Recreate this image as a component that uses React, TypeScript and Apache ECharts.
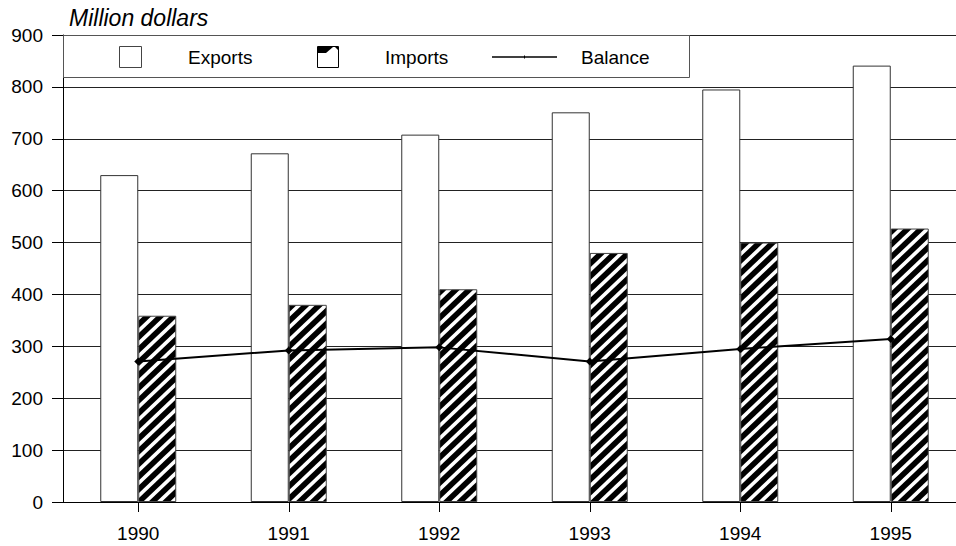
import React, { useEffect, useRef } from "react";
import * as echarts from "echarts";

const years = ["1990", "1991", "1992", "1993", "1994", "1995"];
const exportsValues = [630, 672, 708, 751, 795, 841];
const importsValues = [359, 380, 410, 480, 500, 527];
const balanceValues = [271, 292, 298, 271, 295, 314];
const yTicks = { min: 0, max: 900, interval: 100 };

const FONT = "'Liberation Sans', Arial, sans-serif";
const LABEL_SIZE = 19;

// Black fill with white diagonal "/" stripes, as a global image pattern
function makeHatch(): string {
  const w = 960;
  const h = 560;
  const c = document.createElement("canvas");
  c.width = w;
  c.height = h;
  const ctx = c.getContext("2d")!;
  ctx.fillStyle = "#000";
  ctx.fillRect(0, 0, w, h);
  ctx.fillStyle = "#fff";
  const slope = 0.95; // rise per unit of x
  const period = 12.7; // vertical distance between stripes
  const band = 5; // vertical thickness of each white stripe
  for (let b = -10; b < h + slope * w + 20; b += period) {
    ctx.beginPath();
    ctx.moveTo(0, b);
    ctx.lineTo(w, b - slope * w);
    ctx.lineTo(w, b - slope * w + band);
    ctx.lineTo(0, b + band);
    ctx.closePath();
    ctx.fill();
  }
  return c.toDataURL();
}

export default function App() {
  const ref = useRef<HTMLDivElement>(null);

  useEffect(() => {
    if (!ref.current) return;
    const chart = echarts.init(ref.current, null, { renderer: "svg" });
    const hatch = {
      image: makeHatch(),
      imageWidth: 960,
      imageHeight: 560,
      repeat: "repeat",
    } as any;

    const legendY = 57;
    const textStyle = { fill: "#000", fontSize: LABEL_SIZE, fontFamily: FONT };

    chart.setOption({
      animation: false,
      backgroundColor: "#fff",
      textStyle: { fontFamily: FONT, color: "#000" },
      title: {
        text: "Million dollars",
        left: 64,
        top: 1,
        textStyle: {
          fontStyle: "italic",
          fontWeight: "normal",
          fontSize: 23,
          color: "#000",
          fontFamily: FONT,
        },
      },
      // the last category band runs past the right edge of the page
      grid: { left: 63, top: 35, width: 903, height: 467, outerBoundsMode: "none" },
      xAxis: {
        type: "category",
        data: years,
        boundaryGap: true,
        axisLine: { show: true, lineStyle: { color: "#000", width: 1 } },
        axisTick: { show: true, alignWithLabel: true, length: 10, lineStyle: { color: "#000" } },
        axisLabel: { color: "#000", fontSize: LABEL_SIZE, margin: 22, fontFamily: FONT },
        splitLine: { show: false },
      },
      yAxis: {
        type: "value",
        min: yTicks.min,
        max: yTicks.max,
        interval: yTicks.interval,
        axisLine: { show: true, lineStyle: { color: "#000", width: 1 } },
        axisTick: { show: true, length: 11, lineStyle: { color: "#000" } },
        axisLabel: { color: "#000", fontSize: LABEL_SIZE, margin: 20, fontFamily: FONT },
        splitLine: { show: true, lineStyle: { color: "#222", width: 1 } },
      },
      series: [
        {
          name: "Exports",
          type: "bar",
          data: exportsValues,
          barWidth: 38,
          barGap: "0%",
          itemStyle: { color: "#fff", borderColor: "#333", borderWidth: 1 },
        },
        {
          name: "Imports",
          type: "bar",
          data: importsValues,
          barWidth: 38,
          barGap: "0%",
          itemStyle: { color: hatch, borderColor: "#444", borderWidth: 1 },
        },
        {
          name: "Balance",
          type: "line",
          data: balanceValues,
          symbol: "diamond",
          symbolSize: 8,
          showSymbol: true,
          z: 5,
          lineStyle: { color: "#000", width: 2 },
          itemStyle: { color: "#000" },
        },
      ],
      graphic: [
        {
          type: "rect",
          shape: { x: 63.5, y: 35.5, width: 626, height: 42 },
          style: { fill: "#fff", stroke: "#555", lineWidth: 1 },
          z: 10,
        },
        {
          type: "rect",
          shape: { x: 119.5, y: 46.5, width: 22, height: 21 },
          style: { fill: "#fff", stroke: "#444", lineWidth: 1 },
          z: 11,
        },
        {
          type: "text",
          x: 188,
          y: legendY,
          style: { ...textStyle, text: "Exports", verticalAlign: "middle" },
          z: 11,
        },
        {
          type: "rect",
          shape: { x: 317.5, y: 46.5, width: 21, height: 21 },
          style: { fill: "#fff", stroke: "#000", lineWidth: 1 },
          z: 11,
        },
        {
          type: "polygon",
          shape: { points: [[318, 47], [333, 47], [326, 53], [318, 53]] },
          style: { fill: "#000" },
          z: 12,
        },
        {
          type: "polygon",
          shape: { points: [[335, 47], [338, 47], [338, 50]] },
          style: { fill: "#000" },
          z: 12,
        },
        {
          type: "text",
          x: 385,
          y: legendY,
          style: { ...textStyle, text: "Imports", verticalAlign: "middle" },
          z: 11,
        },
        {
          type: "line",
          shape: { x1: 492, y1: legendY, x2: 557, y2: legendY },
          style: { stroke: "#000", lineWidth: 1.5 },
          z: 11,
        },
        {
          type: "line",
          shape: { x1: 524.5, y1: legendY - 1.5, x2: 524.5, y2: legendY + 1.5 },
          style: { stroke: "#000", lineWidth: 1 },
          z: 11,
        },
        {
          type: "text",
          x: 581,
          y: legendY,
          style: { ...textStyle, text: "Balance", verticalAlign: "middle" },
          z: 11,
        },
      ],
    });

    return () => chart.dispose();
  }, []);

  return (
    <div
      ref={ref}
      style={{ position: "fixed", left: 0, top: 0, width: 956, height: 546, background: "#fff" }}
    />
  );
}
